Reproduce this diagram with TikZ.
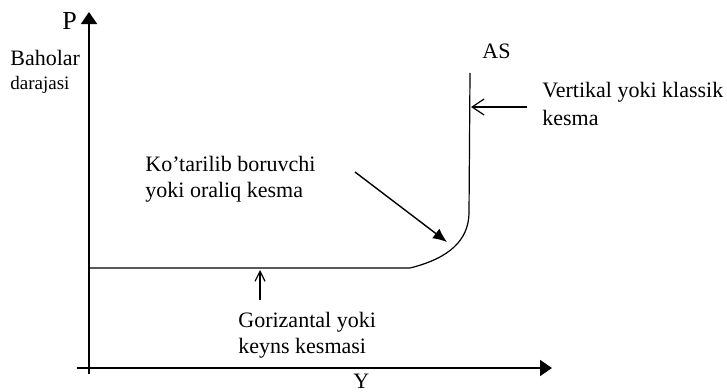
\documentclass[tikz,border=0pt]{standalone}
\usepackage{fontspec}
\setmainfont{Liberation Serif}
\usetikzlibrary{arrows.meta}
\tikzset{axisline/.style={line width=0.8pt,-{Triangle[length=6pt,width=8pt]}}}
\tikzset{curveline/.style={line width=0.6pt}}
\tikzset{txt/.style={anchor=base west,inner sep=0pt,font=\fontsize{11}{13}\selectfont,align=left}}
\tikzset{pointer/.style={line width=0.6pt,-{Straight Barb[length=6pt,width=8pt]}}}
\tikzset{bigpointer/.style={line width=0.7pt,-{Latex[length=7pt,width=6pt]}}}

\begin{document}
\begin{tikzpicture}[x=0.5pt,y=-0.5pt]
		\useasboundingbox (0,0) rectangle (727,391);

		% axes
		\coordinate (ptop) at (89,12);
		\coordinate (pbot) at (89,374);
		\coordinate (yleft) at (77,368);
		\coordinate (yright) at (552,368);
		\draw[axisline] (pbot) -- (ptop);
		\draw[axisline] (yleft) -- (yright);

		\node[txt,font=\fontsize{13}{15}\selectfont](p) at (62,29){P};
		\node[txt](y) at (353,388){Y};
		\node[txt](baholar) at (10,89){Baholar\\[-1pt]{\fontsize{9.5}{11}\selectfont darajasi}};

		% AS curve
		\coordinate (h0) at (89,268);
		\coordinate (h1) at (410,268);
		\coordinate (v0) at (469,214);
		\coordinate (v1) at (470,73);
		\draw[curveline] (h0) -- (h1) .. controls (450,258) and (468,240) .. (v0) -- (v1);
		\node[txt](as) at (482,58){AS};

		% labels
		\node[txt](vert) at (542,125){Vertikal yoki klassik\\[1pt]kesma};
		\node[txt](rise) at (145,197){Ko'tarilib boruvchi\\yoki oraliq kesma};
		\node[txt](hor) at (238,353){Gorizantal yoki\\keyns kesmasi};

		\coordinate (vtail) at (527,107);
		\coordinate (vtip) at (471,107);
		\coordinate (rtail) at (355,172);
		\coordinate (rtip) at (447,242);
		\coordinate (htail) at (260,300);
		\coordinate (htip) at (260,270);

		\draw[pointer] (vtail) -- (vtip);
		\draw[bigpointer] (rtail) -- (rtip);
		\draw[pointer,-{Straight Barb[length=5pt,width=5pt]}] (htail) -- (htip);
	\end{tikzpicture}
\end{document}
